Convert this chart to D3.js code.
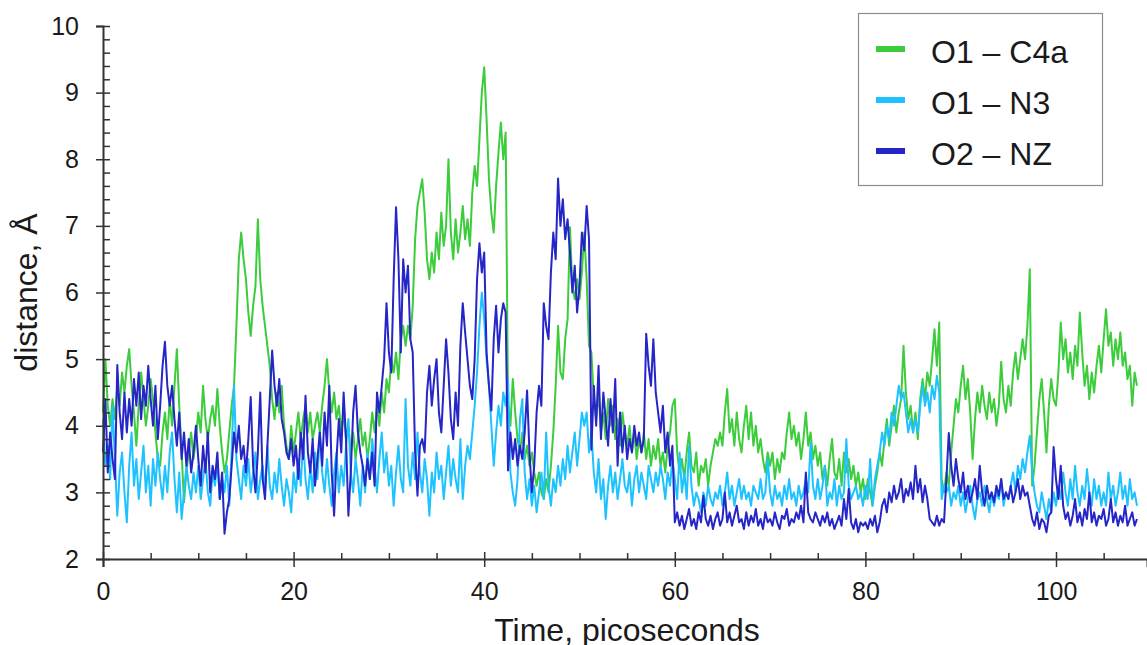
<!DOCTYPE html>
<html>
<head>
<meta charset="utf-8">
<script src="https://cdn.jsdelivr.net/npm/d3@7"></script>
<style>
    body { margin: 0; background: #fff; }
    svg { display: block; font-family: "Liberation Sans", Arial, sans-serif; }
</style>
</head>
<body>
<div class="chart"></div>
<script>
// sampling interval of the traces, picoseconds
var timeStep = 0.25;

// O1 - C4a distance (A), one row per 5 ps
var o1c4a = [
    4.2, 5.0, 4.3, 4.0, 4.4, 4.1, 4.6, 4.3, 4.8, 4.5, 4.9, 5.15, 4.6, 4.2, 3.7, 4.3, 4.8, 4.4, 4.0, 4.3,
    4.7, 4.4, 3.9, 3.5, 3.4, 3.9, 4.2, 3.8, 4.4, 4.0, 4.6, 5.15, 4.3, 3.6, 2.85, 3.3, 3.6, 3.9, 3.5, 3.8,
    4.2, 3.9, 4.6, 4.1, 3.8, 4.1, 4.3, 4.0, 4.55, 4.0, 3.6, 3.3, 3.5, 3.9, 4.3, 4.6, 5.5, 6.5, 6.9, 6.5,
    6.2, 5.7, 5.35, 5.8, 6.1, 7.1, 6.2, 5.8, 5.5, 5.2, 4.9, 4.4, 4.1, 4.5, 4.2, 4.6, 4.0, 3.7, 3.5, 4.0,
    3.6, 3.9, 4.2, 3.8, 4.1, 4.3, 3.9, 4.2, 3.8, 4.0, 4.2, 3.9, 4.3, 4.6, 5.0, 4.5, 4.2, 4.5, 4.1, 4.3,
    3.9, 4.2, 3.8, 4.0, 3.6, 3.9, 3.5, 3.8, 4.1, 3.7, 3.9, 3.5, 3.8, 4.2, 3.9, 4.3, 4.0, 4.5, 4.2, 4.7,
    4.5, 5.0, 4.8, 5.1, 4.7, 5.3, 5.5, 5.2, 5.5, 5.3, 5.8, 6.8, 7.3, 7.5, 7.7, 7.2, 6.5, 6.2, 6.6, 6.3,
    6.9, 6.5, 7.2, 6.7, 7.0, 8.0, 6.9, 6.5, 7.1, 6.6, 6.9, 7.3, 6.8, 7.1, 6.7, 7.5, 7.9, 7.6, 8.3, 9.0,
    9.38, 8.6, 7.7, 7.2, 6.9, 7.6, 8.1, 8.55, 8.0, 8.4, 4.3, 4.0, 4.7, 4.2, 3.8, 3.6, 3.9, 3.5, 3.7, 3.4,
    3.6, 3.3, 3.1, 3.3, 3.0, 2.9, 3.2, 3.0, 3.4, 3.9, 4.6, 5.5, 4.8, 4.7, 5.3, 5.6, 6.98, 6.1, 5.9, 6.2,
    5.9, 6.3, 6.9, 6.2, 5.2, 5.1, 4.4, 4.1, 4.5, 3.9, 4.2, 3.8, 4.4, 4.0, 4.3, 3.8, 4.1, 3.7, 4.2, 3.9,
    3.7, 4.0, 3.6, 3.9, 3.5, 3.8, 3.6, 3.9, 3.5, 3.8, 3.4, 3.7, 3.5, 3.8, 3.4, 3.6, 3.3, 3.7, 3.9, 4.3,
    4.4, 3.6, 3.3, 3.5, 3.2, 3.6, 3.9, 3.4, 3.3, 3.6, 3.1, 3.4, 3.3, 3.5, 3.1, 3.4, 3.6, 3.8, 3.7, 3.9,
    3.7, 4.2, 4.55, 3.9, 4.1, 3.7, 4.2, 3.8, 3.6, 4.0, 4.3, 3.8, 4.2, 3.7, 4.0, 3.6, 3.8, 3.5, 3.3, 3.6,
    3.4, 3.6, 3.2, 3.5, 3.3, 3.6, 3.5, 3.9, 4.2, 3.8, 4.0, 3.7, 3.9, 3.5, 3.8, 4.2, 3.7, 3.9, 3.5, 3.7,
    3.4, 3.6, 3.2, 3.4, 3.1, 3.5, 3.8, 3.3, 3.2, 3.5, 3.1, 3.6, 3.3, 3.5, 3.2, 3.4, 3.1, 3.3, 3.0, 3.2,
    2.9, 3.2, 3.0, 2.8, 3.1, 3.3, 3.6, 3.4, 3.8, 4.1, 3.7, 4.0, 4.3, 3.9, 4.2, 4.4, 5.2, 4.5, 4.1, 4.3,
    3.9, 4.2, 3.8, 4.4, 4.7, 4.4, 4.8, 4.6, 5.0, 5.45, 4.9, 5.55, 3.2, 3.0, 3.3, 3.1, 3.6, 4.0, 4.4, 4.2,
    4.6, 4.9, 4.4, 4.7, 4.2, 3.5, 4.1, 4.5, 4.2, 4.6, 4.3, 4.1, 4.5, 4.2, 4.4, 4.0, 4.3, 4.96, 4.4, 4.2,
    4.6, 4.3, 4.8, 5.1, 4.7, 5.0, 5.3, 5.0, 5.5, 6.35, 3.1, 3.4, 3.9, 4.4, 4.7, 4.2, 3.6, 4.3, 4.7, 4.4,
    4.3, 4.8, 5.55, 5.0, 5.3, 4.8, 5.1, 4.7, 5.2, 4.9, 5.7, 5.1, 4.6, 4.9, 4.4, 4.8, 4.5, 4.9, 5.2, 4.8,
    5.3, 5.75, 5.2, 5.4, 4.9, 5.3, 5.0, 5.4, 4.9, 5.1, 4.7, 4.9, 4.3, 4.8, 4.6
];

// O1 - N3 distance (A)
var o1n3 = [
    4.1, 3.4, 3.7, 3.2, 4.3, 3.5, 2.65, 3.3, 3.6, 3.0, 2.55, 3.4, 3.9, 3.1, 3.5, 2.9, 3.3, 3.7, 3.0, 3.4,
    2.8, 3.5, 3.1, 3.6, 3.2, 2.9, 3.4, 3.0, 3.6, 3.9, 3.2, 2.7, 3.3, 2.6, 3.0, 3.4, 3.1, 2.9, 3.3, 3.0,
    3.4, 2.9, 3.2, 3.5, 3.0, 2.8, 3.3, 3.1, 3.5, 2.9, 3.2, 3.0, 3.4, 2.8, 3.6, 4.6, 3.5, 3.2, 2.9, 3.4,
    3.1, 3.5, 3.0, 3.3, 3.6, 2.9, 3.2, 3.4, 3.0, 3.7, 3.1, 2.9, 3.3, 3.0, 3.5, 3.1, 2.8, 3.2, 3.0, 2.7,
    3.3, 3.0, 3.5, 3.1, 3.8, 3.2, 2.9, 3.4, 3.0, 3.6, 3.2, 3.9, 3.3, 3.0, 3.5, 3.1, 2.8, 3.3, 3.6, 3.0,
    3.4, 3.1, 3.7, 4.1, 3.3, 3.0, 3.5, 3.2, 2.8, 3.4, 3.0, 3.6, 3.2, 3.8, 3.4, 3.0, 3.5, 3.9, 3.3, 3.6,
    3.1, 3.4, 2.8, 3.3, 3.7, 3.2, 3.0, 4.4, 3.4, 3.1, 3.6, 3.2, 3.9, 3.3, 3.0, 3.5, 3.2, 2.65, 3.3, 3.0,
    3.6, 3.2, 3.4, 2.9, 3.3, 3.7, 3.1, 3.5, 3.2, 3.0, 3.8, 2.9, 3.4, 3.7, 3.5, 3.9, 4.3, 4.8, 5.5, 6.0,
    5.6, 5.0, 4.6, 4.0, 3.4, 3.9, 4.3, 4.0, 4.5, 4.3, 4.7, 3.3, 3.0, 2.8, 3.2, 4.1, 4.4, 3.3, 2.9, 3.2,
    2.8, 3.1, 2.7, 3.0, 3.3, 2.9, 3.9, 3.1, 2.8, 3.2, 3.0, 3.4, 3.1, 3.5, 3.2, 3.7, 3.3, 3.6, 3.9, 3.4,
    3.8, 4.2, 4.0, 4.2, 3.6, 3.9, 3.3, 3.0, 3.5, 2.9, 3.2, 2.6, 3.1, 3.4, 3.0, 3.3, 2.9, 3.2, 3.5, 3.1,
    3.0, 3.3, 2.8, 3.2, 3.4, 3.0, 3.3, 3.1, 2.9, 3.4, 3.2, 3.0, 3.3, 3.1, 3.4, 3.2, 2.9, 3.3, 3.1, 3.5,
    3.2, 2.9, 3.6, 3.0, 3.3, 2.9, 3.7, 3.1, 2.8, 3.0, 2.9, 2.7, 3.0, 2.8, 3.1, 2.9, 2.8, 3.0, 2.9, 3.1,
    2.8, 3.0, 3.3, 2.9, 3.1, 2.8, 3.0, 3.2, 2.9, 3.1, 2.9, 3.0, 2.8, 3.1, 3.0, 2.9, 3.2, 2.9, 3.0, 3.5,
    3.0, 2.8, 3.1, 2.9, 3.0, 2.8, 3.1, 2.9, 3.2, 2.9, 3.0, 2.8, 3.1, 2.9, 3.0, 3.2, 3.0, 3.75, 3.1, 2.9,
    3.2, 2.9, 3.1, 3.4, 2.8, 3.0, 2.9, 3.2, 2.8, 3.1, 2.9, 3.0, 3.8, 3.1, 2.9, 3.0, 3.1, 2.9, 3.0, 2.8,
    3.1, 2.9, 3.5, 2.8, 3.2, 3.4, 3.6, 3.9, 3.7, 4.0, 3.8, 4.2, 4.0, 4.3, 4.6, 4.4, 4.5, 4.2, 3.9, 4.1,
    3.9, 4.1, 3.9, 4.3, 4.6, 4.3, 4.5, 4.2, 4.6, 4.4, 4.75, 4.5, 2.9, 3.1, 3.0, 3.1, 2.8, 3.0, 2.9, 3.1,
    2.8, 3.0, 2.7, 2.9, 3.1, 2.8, 2.6, 2.9, 3.0, 2.8, 3.1, 2.9, 2.7, 3.0, 2.8, 3.0, 2.9, 3.2, 2.8, 3.0,
    2.9, 3.1, 3.3, 3.0, 3.4, 3.2, 3.5, 3.3, 3.6, 3.85, 3.3, 3.0, 2.8, 2.7, 3.0, 2.8, 2.6, 2.9, 2.7, 3.0,
    2.8, 3.1, 2.9, 3.3, 3.0, 2.8, 3.2, 2.9, 3.4, 3.0, 2.8, 3.1, 2.9, 3.35, 3.0, 2.8, 3.2, 2.9, 3.1, 2.8,
    3.0, 2.8, 3.3, 2.9, 3.1, 2.8, 3.0, 3.3, 2.9, 3.1, 2.8, 3.2, 2.9, 3.0, 2.8
];

// O2 - NZ distance (A)
var o2nz = [
    3.6, 4.4, 3.3, 3.9, 3.5, 3.2, 4.91, 4.2, 3.8, 4.5, 3.9, 4.4, 4.0, 4.7, 4.3, 4.8, 4.1, 4.6, 4.3, 4.9,
    4.4, 4.0, 4.6, 3.8, 4.3, 4.9, 5.26, 4.6, 4.3, 4.6, 4.1, 3.7, 4.2, 3.5, 3.9, 3.4, 3.8, 3.3, 3.6, 4.0,
    3.5, 3.1, 3.7, 3.3, 3.9, 3.0, 3.4, 3.2, 3.6, 2.9, 3.3, 2.38, 2.7, 2.9, 3.4, 3.9, 3.6, 4.0, 3.5, 3.7,
    3.3, 3.8, 4.43, 3.4, 3.0, 3.6, 4.5, 3.2, 2.9, 3.7, 4.4, 5.13, 4.6, 4.3, 4.7, 4.1, 3.9, 3.6, 3.5, 3.8,
    3.4, 3.7, 3.2, 3.9, 3.5, 4.45, 3.6, 3.3, 3.8, 3.1, 3.5, 3.9, 3.4, 4.2, 3.7, 4.6, 3.3, 2.65, 3.5, 4.1,
    3.6, 4.5, 3.8, 2.65, 3.3, 4.2, 4.6, 3.9, 3.6, 3.4, 3.1, 3.5, 3.2, 3.6, 3.1, 4.5, 4.2, 4.6, 5.0, 5.84,
    5.1, 4.8, 6.2, 7.28, 6.5, 5.1, 6.5, 6.0, 6.4, 5.3, 5.1, 3.6, 2.95, 3.7, 3.8, 3.6, 4.5, 4.9, 4.3, 4.7,
    5.0, 4.2, 3.9, 4.6, 5.3, 4.8, 4.1, 3.8, 4.5, 4.0, 5.2, 5.84, 5.4, 5.0, 4.6, 4.4, 5.0, 6.2, 6.74, 6.3,
    6.6, 5.1, 4.6, 4.23, 5.3, 5.8, 5.1, 5.6, 5.84, 5.7, 3.33, 3.9, 3.5, 3.8, 3.4, 3.7, 3.5, 3.9, 4.53, 3.6,
    3.0, 3.4, 4.2, 4.6, 4.3, 5.84, 5.5, 5.3, 6.3, 6.9, 6.5, 7.71, 7.0, 7.4, 6.8, 7.1, 6.6, 6.0, 6.4, 5.7,
    6.1, 6.9, 6.63, 7.3, 6.8, 3.64, 4.6, 4.0, 4.9, 3.8, 4.5, 4.1, 3.7, 4.4, 3.9, 4.7, 3.4, 4.2, 3.6, 4.0,
    3.5, 3.8, 3.6, 4.0, 3.7, 3.9, 3.6, 3.8, 5.38, 4.9, 4.6, 5.3, 4.5, 4.2, 3.9, 4.3, 3.6, 3.9, 3.4, 3.7,
    2.55, 2.7, 2.5, 2.65, 2.45, 2.6, 2.75, 2.5, 2.6, 2.45, 2.7, 2.55, 2.95, 2.6, 2.5, 2.65, 2.45, 2.6, 2.7, 2.5,
    2.6, 3.0, 2.55, 2.7, 2.5, 2.65, 2.8, 2.55, 2.6, 2.45, 2.7, 2.5, 2.65, 2.55, 2.75, 2.5, 2.6, 2.45, 2.7, 2.55,
    2.6, 2.5, 2.7, 2.55, 2.45, 2.65, 2.6, 2.75, 2.5, 2.6, 2.55, 2.7, 2.6, 2.8, 2.55, 3.3, 2.7, 2.6, 2.55, 2.7,
    2.6, 2.5, 2.65, 2.55, 2.7, 2.5, 2.6, 2.45, 2.55, 2.65, 2.5, 2.9, 2.6, 3.05, 2.55, 2.45, 2.6, 2.4, 2.55, 2.5,
    2.55, 2.45, 2.6, 2.5, 2.65, 2.4, 2.55, 2.8, 2.9, 2.7, 3.0, 2.85, 3.1, 2.9, 3.0, 3.2, 2.85, 3.05, 2.95, 3.15,
    2.9, 3.4, 3.0, 3.2, 2.85, 3.1, 2.9, 2.6, 2.55, 2.5, 2.65, 2.5, 2.6, 2.55, 3.2, 3.89, 3.4, 3.1, 3.5, 3.2,
    3.0, 3.3, 2.9, 3.1, 2.85, 3.0, 3.2, 2.9, 3.4, 3.0, 2.8, 3.1, 2.9, 3.0, 2.85, 3.1, 2.95, 3.2, 2.9, 3.0,
    2.9, 3.1, 2.85, 3.0, 3.2, 2.9, 3.1, 2.95, 3.0, 2.8, 2.6, 2.5, 2.7, 2.45, 2.6, 2.55, 2.4, 2.65, 2.7, 3.68,
    3.2, 2.9, 3.4, 2.8, 2.6, 2.7, 2.5, 2.65, 2.9, 2.55, 2.7, 2.5, 2.75, 2.6, 3.0, 2.55, 2.7, 2.5, 2.65, 2.6,
    2.75, 2.5, 2.6, 2.9, 2.55, 2.7, 2.5, 2.65, 2.55, 2.8, 2.5, 2.6, 2.7, 2.5, 2.6
];

var seriesNames = ["O1 \u2013 C4a", "O1 \u2013 N3", "O2 \u2013 NZ"];
var xTickValues = [0, 20, 40, 60, 80, 100];
var yTickValues = [2, 3, 4, 5, 6, 7, 8, 9, 10];

var svgWidth = 1147;
var svgHeight = 645;

var margin = {
    top: 26,
    right: 0,
    bottom: 86,
    left: 103
};

var width = svgWidth - margin.left - margin.right;
var height = svgHeight - margin.top - margin.bottom;

var colors = ["#3ccc3c", "#1ec2ff", "#2525c8"];

var svg = d3.select(".chart")
    .append("svg")
    .attr("width", svgWidth)
    .attr("height", svgHeight);

var chartGroup = svg.append("g")
    .attr("transform", `translate(${margin.left}, ${margin.top})`);

// Step 1: scales (x axis runs on to the right edge)
var xLinearScale = d3.scaleLinear()
    .domain([0, 100 * width / 953])
    .range([0, width]);

var yLinearScale = d3.scaleLinear()
    .domain([2, 10])
    .range([height, 0]);

// Step 2: the traces, green first so the blues sit on top
var traces = [o1c4a, o1n3, o2nz];

var line = d3.line()
    .x((d, i) => xLinearScale(i * timeStep))
    .y(d => yLinearScale(d));

traces.forEach(function (values, k) {
    chartGroup.append("path")
        .datum(values)
        .attr("fill", "none")
        .attr("stroke", colors[k])
        .attr("stroke-width", 2)
        .attr("stroke-linejoin", "round")
        .attr("d", line);
});

// Step 3: axes
var minorX = d3.range(5, 110, 5).filter(v => v % 20 != 0);
var minorY = d3.range(2, 10.01, 0.2).filter(v => Math.abs(v - Math.round(v)) > 0.01);

chartGroup.append("g")
    .attr("transform", `translate(0, ${height})`)
    .call(d3.axisBottom(xLinearScale).tickValues(minorX).tickSize(-6).tickFormat(""))
    .call(g => g.select(".domain").remove())
    .selectAll("line").attr("stroke", "#333").attr("stroke-width", 1.5);

chartGroup.append("g")
    .call(d3.axisLeft(yLinearScale).tickValues(minorY).tickSize(-7).tickFormat(""))
    .call(g => g.select(".domain").remove())
    .selectAll("line").attr("stroke", "#333").attr("stroke-width", 1.5);

var xAxis = chartGroup.append("g")
    .attr("transform", `translate(0, ${height})`)
    .call(d3.axisBottom(xLinearScale).tickValues(xTickValues).tickSizeOuter(0).tickSize(8).tickPadding(15));

xAxis.selectAll(".tick line").attr("y1", -7);

var yAxis = chartGroup.append("g")
    .call(d3.axisLeft(yLinearScale).tickValues(yTickValues).tickSizeOuter(0).tickSize(7).tickPadding(17));

yAxis.selectAll(".tick line").attr("x1", 7);

[xAxis, yAxis].forEach(function (ax) {
    ax.select(".domain").attr("stroke", "#333").attr("stroke-width", 2);
    ax.selectAll(".tick line").attr("stroke", "#333").attr("stroke-width", 1.5);
    ax.selectAll("text")
        .attr("fill", "#1a1a1a")
        .style("font-size", "25px")
        .style("font-family", "Liberation Sans, Arial, sans-serif");
});

// Step 4: axis titles
svg.append("text")
    .attr("transform", `translate(37, ${margin.top + height / 2}) rotate(-90)`)
    .attr("text-anchor", "middle")
    .style("font-size", "32px")
    .attr("fill", "#1a1a1a")
    .text("distance, \u00c5");

svg.append("text")
    .attr("x", 627)
    .attr("y", 641)
    .attr("text-anchor", "middle")
    .style("font-size", "32px")
    .attr("fill", "#1a1a1a")
    .text("Time, picoseconds");

// Step 5: legend box
var legend = svg.append("g");

legend.append("rect")
    .attr("x", 858.5)
    .attr("y", 13.5)
    .attr("width", 244)
    .attr("height", 172)
    .attr("fill", "#fff")
    .attr("stroke", "#8c8c8c")
    .attr("stroke-width", 1.2);

seriesNames.forEach(function (name, k) {
    var rowY = 49 + k * 51;
    legend.append("line")
        .attr("x1", 876)
        .attr("x2", 905)
        .attr("y1", rowY)
        .attr("y2", rowY)
        .attr("stroke", colors[k])
        .attr("stroke-width", 6);
    legend.append("text")
        .attr("x", 931)
        .attr("y", rowY + 13.5)
        .style("font-size", "32px")
        .attr("fill", "#1a1a1a")
        .text(name);
});
</script>
</body>
</html>
